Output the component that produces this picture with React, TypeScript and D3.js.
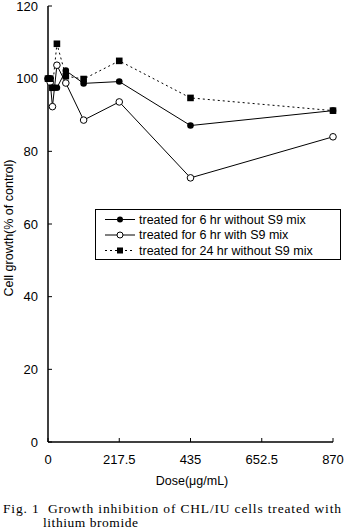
import React from "react";
import * as d3 from "d3";

const doses = [0, 6.8, 13.6, 27.2, 54.4, 108.75, 217.5, 435, 870];
const without6 = [100, 100, 97.5, 97.5, 102.2, 98.7, 99.2, 87.1, 91.2];
const withS9 = [100, 99, 92.3, 103.7, 98.8, 88.6, 93.6, 72.7, 84.0];
const without24 = [100, 100, 97.5, 109.6, 100.7, 99.9, 104.9, 94.7, 91.2];
const xTicks = [0, 217.5, 435, 652.5, 870];
const yTicks = [0, 20, 40, 60, 80, 100, 120];
const legendLabels = [
  "treated for 6 hr without S9 mix",
  "treated for 6 hr with S9 mix",
  "treated for 24 hr without S9 mix",
];

export default function App() {
  const x = d3.scaleLinear().domain([0, 870]).range([48, 333]);
  const y = d3.scaleLinear().domain([0, 120]).range([442, 6]);
  const line = d3
    .line<[number, number]>()
    .x((d) => x(d[0]))
    .y((d) => y(d[1]));
  const pts = (vals: number[]) => doses.map((d, i) => [d, vals[i]] as [number, number]);
  const sans = "'Liberation Sans', Arial, sans-serif";
  const serif = "'Liberation Serif', 'DejaVu Serif', serif";
  const fmt = (v: number) => String(v);

  return (
    <svg width={346} height={532} style={{ position: "absolute", left: 0, top: 0 }}>
      <rect width={346} height={532} fill="#fff" />
      {/* axes */}
      <line x1={x(0)} x2={x(0)} y1={y(120)} y2={y(0)} stroke="#000" strokeWidth={1.5} />
      <line x1={x(0)} x2={x(870)} y1={y(0)} y2={y(0)} stroke="#000" strokeWidth={1.5} />
      {yTicks.map((t) => (
        <g key={"y" + t}>
          <line x1={x(0)} x2={x(0) + 4} y1={y(t)} y2={y(t)} stroke="#000" strokeWidth={1} />
          <text x={38} y={y(t) + 4.5} textAnchor="end" fontFamily={sans} fontSize={13}>
            {t}
          </text>
        </g>
      ))}
      {xTicks.map((t) => (
        <g key={"x" + t}>
          <line x1={x(t)} x2={x(t)} y1={y(0)} y2={y(0) - 4} stroke="#000" strokeWidth={1} />
          <text x={x(t)} y={464} textAnchor="middle" fontFamily={sans} fontSize={13}>
            {fmt(t)}
          </text>
        </g>
      ))}
      <text x={192} y={485} textAnchor="middle" fontFamily={sans} fontSize={12.5}>
        Dose(μg/mL)
      </text>
      <text
        transform={`translate(13,${(y(0) + y(120)) / 2 + 4}) rotate(-90)`}
        textAnchor="middle"
        fontFamily={sans}
        fontSize={12.5}
      >
        Cell growth(% of control)
      </text>
      {/* series */}
      <path d={line(pts(without24)) || ""} fill="none" stroke="#000" strokeWidth={1} strokeDasharray="2,3" />
      <path d={line(pts(withS9)) || ""} fill="none" stroke="#000" strokeWidth={1} />
      <path d={line(pts(without6)) || ""} fill="none" stroke="#000" strokeWidth={1} />
      {pts(withS9).map((p, i) => (
        <circle key={"o" + i} cx={x(p[0])} cy={y(p[1])} r={3.3} fill="#fff" stroke="#000" strokeWidth={1} />
      ))}
      {pts(without24).map((p, i) => (
        <rect key={"s" + i} x={x(p[0]) - 3.3} y={y(p[1]) - 3.3} width={6.6} height={6.6} fill="#000" />
      ))}
      {pts(without6).map((p, i) => (
        <circle key={"f" + i} cx={x(p[0])} cy={y(p[1])} r={3.3} fill="#000" />
      ))}
      {/* legend */}
      <rect x={95.5} y={209.5} width={245} height={50} fill="#fff" stroke="#000" strokeWidth={1} />
      {legendLabels.map((lab, i) => {
        const ly = 219.5 + i * 15.5;
        return (
          <g key={lab}>
            <line
              x1={105}
              x2={135}
              y1={ly}
              y2={ly}
              stroke="#000"
              strokeWidth={1}
              strokeDasharray={i === 2 ? "2,3" : undefined}
            />
            {i === 0 && <circle cx={120} cy={ly} r={3} fill="#000" />}
            {i === 1 && <circle cx={120} cy={ly} r={3} fill="#fff" stroke="#000" />}
            {i === 2 && <rect x={117} y={ly - 3} width={6} height={6} fill="#000" />}
            <text x={139} y={ly + 4.3} fontFamily={sans} fontSize={12.5}>
              {lab}
            </text>
          </g>
        );
      })}
      {/* caption */}
      <text x={3} y={513} fontFamily={serif} fontSize={13.5} textLength={338} lengthAdjust="spacing">
        Fig. 1{"\u00a0\u00a0"}Growth inhibition of CHL/IU cells treated with
      </text>
      <text x={43} y={527} fontFamily={serif} fontSize={13.5} textLength={95} lengthAdjust="spacing">
        lithium bromide
      </text>
    </svg>
  );
}
